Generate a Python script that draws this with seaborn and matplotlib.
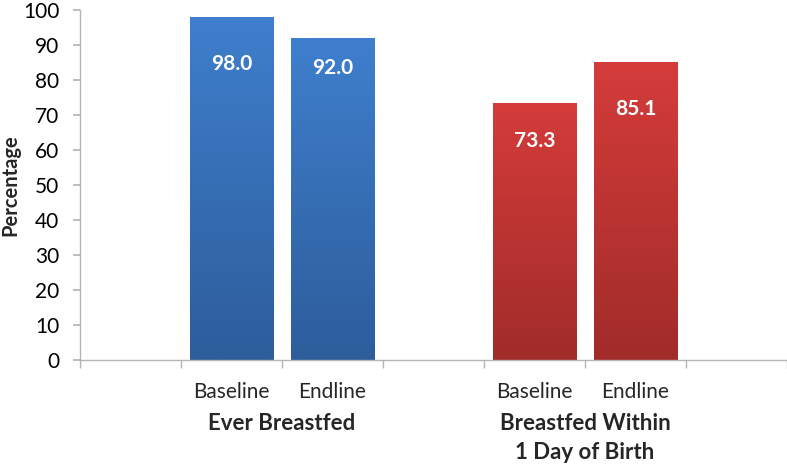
import numpy as np
import pandas as pd
import matplotlib
matplotlib.use("Agg")
import matplotlib.pyplot as plt
import matplotlib.transforms as mtransforms
from matplotlib.colors import LinearSegmentedColormap
import seaborn as sns

# ---- data ----
groups = ["Ever Breastfed", "Breastfed Within\n1 Day of Birth"]
timepoints = ["Baseline", "Endline"]
ever_breastfed = [98.0, 92.0]
within_1_day = [73.3, 85.1]
y_ticks = [0, 10, 20, 30, 40, 50, 60, 70, 80, 90, 100]

# ---- build table ----
slots = ["pad0", "g0_Baseline", "g0_Endline", "pad1", "g1_Baseline", "g1_Endline", "pad2"]
rows = []
for gi, vals in enumerate([ever_breastfed, within_1_day]):
    for t, v in zip(timepoints, vals):
        rows.append({"slot": f"g{gi}_{t}", "group": groups[gi], "time": t, "value": v})
df = pd.DataFrame(rows)

sns.set_theme(style="white")
plt.rcParams["font.family"] = ["Lato", "DejaVu Sans"]

fig = plt.figure(figsize=(7.87, 4.66), dpi=100)
ax = fig.add_axes([80 / 787, 106 / 466, 707 / 787, 350 / 466])

palette = {groups[0]: "#3b78c4", groups[1]: "#c63836"}
sns.barplot(data=df, x="slot", y="value", order=slots, hue="group", palette=palette,
            dodge=False, width=0.83, legend=False, ax=ax, saturation=1)

grad = {groups[0]: LinearSegmentedColormap.from_list("b", ["#2d5d9b", "#3f7fcd"]),
        groups[1]: LinearSegmentedColormap.from_list("r", ["#a12c2a", "#d43c3a"])}

ax.set_xlim(-0.5, 6.5)
ax.set_ylim(0, 100)

# gradient fill clipped to each bar, plus value labels
label_drop = {"g0_Baseline": 13.5, "g0_Endline": 8.5, "g1_Baseline": 10.8, "g1_Endline": 13.3}
bars = [p for p in ax.patches if p.get_height() > 0]
for p in bars:
    x0, w, h = p.get_x(), p.get_width(), p.get_height()
    xc = x0 + w / 2
    idx = int(round(xc))
    key = slots[idx]
    rec = df[df.slot == key].iloc[0]
    g = np.linspace(0, 1, 256).reshape(-1, 1)
    im = ax.imshow(g, cmap=grad[rec.group], origin="lower", aspect="auto",
                   extent=[x0, x0 + w, 0, h], zorder=p.get_zorder() + 0.1)
    im.set_clip_path(p)
    ax.text(xc, h - label_drop[key], f"{rec.value:.1f}", color="white", ha="center",
            va="center", fontsize=15, fontweight="bold", zorder=5)
ax.set_xlim(-0.5, 6.5)
ax.set_ylim(0, 100)

# axes styling
for s in ["top", "right"]:
    ax.spines[s].set_visible(False)
for s in ["left", "bottom"]:
    ax.spines[s].set_color("#b5b5b5")
    ax.spines[s].set_linewidth(1.0)

ax.set_yticks(y_ticks)
ax.tick_params(axis="y", which="major", length=5, color="#b5b5b5", labelsize=15,
               labelcolor="black", left=True, pad=10)

xlabels = ["", "Baseline", "Endline", "", "Baseline", "Endline", ""]
ax.set_xticks(range(len(slots)))
ax.set_xticklabels(xlabels, fontsize=15)
ax.tick_params(axis="x", which="major", length=0, pad=16)
ax.set_xticks(np.arange(-0.5, len(slots), 1.0), minor=True)
ax.tick_params(axis="x", which="minor", length=6, color="#b5b5b5", bottom=True, width=1)
ax.set_xlabel("")
ax.set_ylabel("Percentage", fontsize=14.5, fontweight="bold")
ax.yaxis.set_label_coords(-0.085, 0.5)

trans = mtransforms.blended_transform_factory(ax.transData, ax.transAxes)
for gi, name in enumerate(groups):
    xc = 1.5 + 3 * gi
    ax.text(xc, -0.152, name, transform=trans, ha="center", va="top",
            fontsize=16, fontweight="bold", linespacing=1.45)

fig.savefig("out.png", dpi=100)
